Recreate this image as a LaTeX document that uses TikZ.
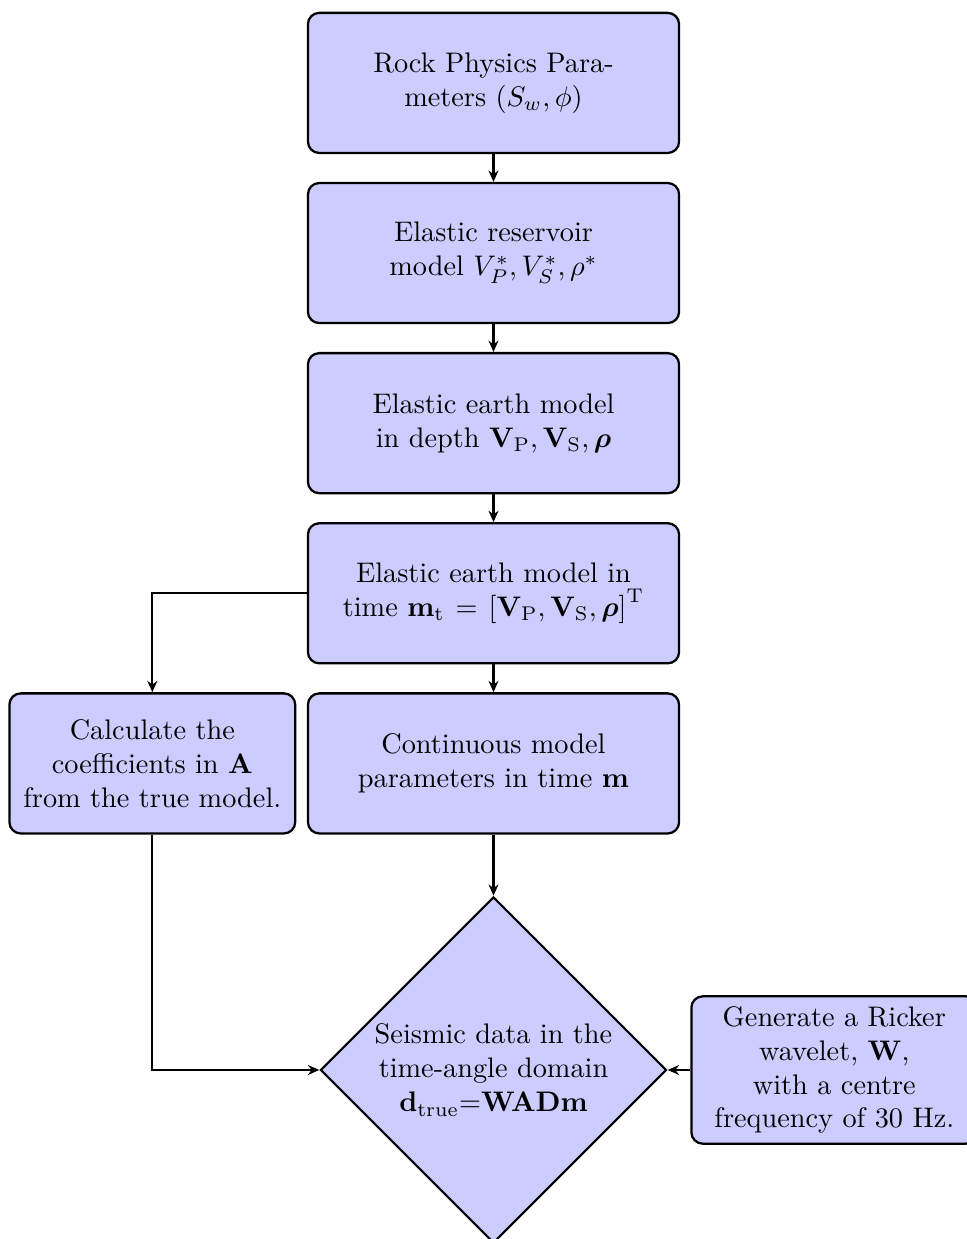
\documentclass[tikz,border=0pt]{standalone}
\usepackage{amsmath,amssymb,bm}
\usepackage{tikz}
\usepackage{xcolor}
\usetikzlibrary{arrows.meta,positioning,shapes.geometric}

\begin{document}
\begin{tikzpicture}[
  node distance=0.345cm and 0.13cm,
  block/.style={rectangle, rounded corners, draw, thick, fill=blue!20,
    text width=4.3cm, minimum width=4.61cm, minimum height=1.74cm, align=center},
  sideblock/.style={rectangle, rounded corners, draw, thick, fill=blue!20,
    text width=3.4cm, minimum width=3.55cm, minimum height=1.74cm, align=center, inner sep=2pt},
  decision/.style={diamond, draw, thick, fill=blue!20, aspect=1, inner sep=0pt,
    text width=3.0cm, minimum width=4.3cm, minimum height=4.3cm, align=center},
  arrow/.style={-{Stealth[length=4pt,width=3.5pt]}, thick},
]
\useasboundingbox (-6.13,1.03) rectangle (5.87,-14.36);

% Main column
\node[block] (rock) {Rock Physics Para-\\meters $(S_w,\phi)$};
\node[block, below=of rock] (reservoir) {Elastic reservoir\\model $V_P^*, V_S^*, \rho^*$};
\node[block, below=of reservoir] (depth) {Elastic earth model\\in depth $\mathbf{V}_\mathrm{P}, \mathbf{V}_\mathrm{S}, \bm{\rho}$};
\node[block, below=of depth] (timemodel) {Elastic earth model in\\time $\mathbf{m}_\mathrm{t} = \left[\mathbf{V}_\mathrm{P}, \mathbf{V}_\mathrm{S}, \bm{\rho}\right]^\mathrm{T}$};
\node[block, below=of timemodel] (cont) {Continuous model\\parameters in time $\mathbf{m}$};

% Side boxes
\node[sideblock, left=of cont] (coef) {Calculate the\\coefficients in $\mathbf{A}$\\from the true model.};
\node[decision, below=0.76cm of cont] (data) {Seismic data in the\\time-angle domain\\$\mathbf{d}_\mathrm{true}$=$\mathbf{WADm}$};
\node[sideblock, right=0.28cm of data, minimum height=1.83cm] (ricker) {Generate a Ricker\\wavelet, $\mathbf{W}$,\\with a centre\\frequency of 30 Hz.};

% Arrows
\draw[arrow] (rock) -- (reservoir);
\draw[arrow] (reservoir) -- (depth);
\draw[arrow] (depth) -- (timemodel);
\draw[arrow] (timemodel) -- (cont);
\draw[arrow] (timemodel.west) -| (coef.north);
\draw[arrow] (cont) -- (data);
\draw[arrow] (coef.south) |- (data.west);
\draw[arrow] (ricker) -- (data);
\end{tikzpicture}
\end{document}
